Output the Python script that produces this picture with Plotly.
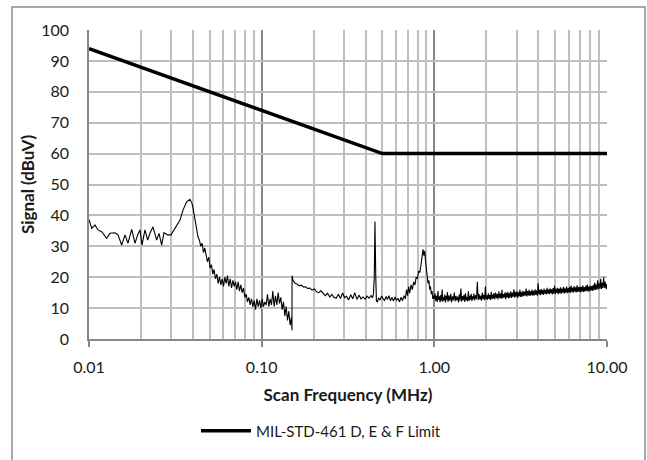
import plotly.graph_objects as go

freq_a = [0.0100, 0.01037, 0.01083, 0.01127, 0.01184, 0.01266, 0.01323, 0.01414, 0.01472, 0.01546,
          0.01616, 0.01682, 0.01767, 0.01846, 0.01914, 0.01973, 0.02027, 0.02109, 0.02188, 0.02254,
          0.02347, 0.02466, 0.02543, 0.02636, 0.02718, 0.02855, 0.02984, 0.03106, 0.03221, 0.03365,
          0.03502, 0.03678, 0.03844, 0.03948]
sig_a = [38.7, 35.8, 36.9, 35.3, 34.7, 32.6, 34.2, 34.4, 33.7, 30.4,
         33.7, 31.0, 35.5, 31.0, 33.7, 35.3, 30.4, 35.3, 32.0, 34.2,
         36.3, 32.0, 34.2, 30.4, 34.4, 33.7, 33.7, 35.3, 36.3, 38.5,
         41.7, 44.4, 45.2, 43.9]

freq_b = [0.0400, 0.0407, 0.0414, 0.0421, 0.0428, 0.0436, 0.0444, 0.0452, 0.0460, 0.0468,
          0.0476, 0.0485, 0.0494, 0.0503, 0.0512, 0.0521, 0.0530, 0.0540, 0.0550, 0.0560,
          0.0570, 0.0580, 0.0590, 0.0601, 0.0612, 0.0623, 0.0634, 0.0645, 0.0657, 0.0669,
          0.0681, 0.0693, 0.0705, 0.0718, 0.0731, 0.0744, 0.0757, 0.0771, 0.0785, 0.0799,
          0.0813, 0.0828, 0.0843, 0.0858, 0.0873, 0.0889, 0.0905, 0.0921, 0.0938, 0.0955,
          0.0972, 0.0989, 0.1007, 0.1025, 0.1043, 0.1062, 0.1081, 0.1100, 0.1120, 0.1140,
          0.1160, 0.1181, 0.1202, 0.1224, 0.1246, 0.1268, 0.1291, 0.1314, 0.1338, 0.1362,
          0.1386, 0.1411, 0.1436, 0.1462, 0.1488, 0.1498]
sig_b = [42.5, 40.0, 37.5, 36.0, 33.0, 32.0, 30.0, 31.0, 28.0, 29.5,
         27.0, 25.0, 26.5, 23.0, 24.0, 21.0, 22.5, 19.5, 21.0, 18.0,
         20.0, 17.5, 19.5, 17.0, 20.0, 18.0, 20.5, 17.0, 19.5, 16.5,
         19.0, 17.0, 18.5, 16.0, 18.5, 15.5, 17.5, 15.0, 16.5, 13.5,
         14.5, 12.0, 13.5, 11.0, 13.0, 10.5, 12.5, 9.5, 13.0, 10.5,
         12.5, 10.0, 13.0, 10.5, 12.0, 11.0, 14.5, 10.5, 13.0, 11.0,
         15.5, 10.5, 14.0, 11.0, 15.0, 11.5, 13.5, 9.5, 12.0, 7.5,
         10.5, 6.0, 9.0, 4.5, 7.0, 2.8]

freq_c = [0.1500, 0.1520, 0.1560, 0.1600, 0.1650, 0.1700, 0.1750, 0.1800, 0.1850, 0.1900,
          0.1960, 0.2020, 0.2080, 0.2140, 0.2200, 0.2270, 0.2340, 0.2410, 0.2480, 0.2550,
          0.2620, 0.2700, 0.2780, 0.2860, 0.2940, 0.3020, 0.3100, 0.3190, 0.3280, 0.3370,
          0.3460, 0.3560, 0.3660, 0.3760, 0.3860, 0.3970, 0.4080, 0.4190, 0.4300, 0.4380,
          0.4440, 0.4490, 0.4530, 0.4580, 0.4620, 0.4680, 0.4750, 0.4850, 0.4950, 0.5050]
sig_c = [20.5, 19.0, 18.0, 17.8, 17.2, 17.4, 16.8, 16.9, 16.3, 16.5,
         15.8, 16.2, 15.3, 15.0, 15.6, 14.6, 14.0, 14.8, 13.6, 14.4,
         13.5, 13.2, 14.5, 13.1, 14.9, 13.4, 13.8, 12.6, 14.3, 13.0,
         15.0, 12.8, 14.2, 13.0, 13.6, 12.9, 13.9, 13.2, 14.1, 13.3,
         14.6, 20.0, 38.0, 20.0, 12.2, 12.0, 13.3, 12.6, 13.9, 13.0]

freq_d = [0.5150, 0.5250, 0.5350, 0.5460, 0.5570, 0.5680, 0.5800, 0.5920, 0.6040, 0.6160,
          0.6290, 0.6420, 0.6550, 0.6680, 0.6800, 0.6900, 0.7000, 0.7100, 0.7200, 0.7330,
          0.7460, 0.7590, 0.7720, 0.7850, 0.7980, 0.8110, 0.8240, 0.8370, 0.8500, 0.8600,
          0.8700, 0.8800, 0.8900, 0.9000, 0.9100, 0.9200, 0.9300, 0.9400, 0.9500, 0.9600,
          0.9700, 0.9800, 0.9900]
sig_d = [12.5, 13.8, 12.8, 14.0, 12.4, 13.4, 12.3, 13.6, 12.5, 13.2,
         12.0, 13.5, 12.4, 14.0, 13.0, 16.0, 14.0, 17.0, 14.8, 17.5,
         16.0, 18.5, 17.5, 20.0, 19.5, 22.0, 21.5, 24.0, 26.5, 29.0,
         27.0, 28.5, 25.0, 22.0, 20.5, 18.0, 19.0, 16.0, 17.0, 14.5,
         15.5, 13.0, 14.0]

freq_e = [1.00, 1.01, 1.02, 1.03, 1.04, 1.05, 1.06, 1.07, 1.08, 1.09, 1.10, 1.11, 1.12, 1.13, 1.14,
          1.15, 1.16, 1.17, 1.18, 1.19, 1.20,
          1.215, 1.23, 1.245, 1.26, 1.275, 1.29, 1.305, 1.32, 1.335, 1.35, 1.365, 1.38, 1.395, 1.41,
          1.425, 1.44, 1.455, 1.47, 1.485, 1.50, 1.515, 1.53, 1.545, 1.56, 1.575, 1.59, 1.605, 1.62,
          1.635, 1.65, 1.665, 1.68, 1.695,
          1.715, 1.735, 1.755, 1.775, 1.795, 1.815, 1.835, 1.855, 1.875, 1.895, 1.915, 1.935, 1.955,
          1.975, 1.995, 2.015, 2.035, 2.055, 2.075, 2.095, 2.115, 2.135, 2.155, 2.175, 2.195, 2.215,
          2.24, 2.265, 2.29, 2.315, 2.34, 2.365, 2.39, 2.415, 2.44, 2.465, 2.49, 2.515, 2.54, 2.565,
          2.59, 2.615, 2.64, 2.665, 2.69, 2.715, 2.74,
          2.77, 2.80, 2.83, 2.86, 2.89, 2.92, 2.95, 2.98, 3.01, 3.04, 3.07, 3.10, 3.13, 3.16, 3.19,
          3.225, 3.26, 3.295, 3.33, 3.365, 3.40, 3.435, 3.47, 3.505, 3.54, 3.575, 3.61, 3.645, 3.68,
          3.715, 3.75,
          3.79, 3.83, 3.87, 3.91, 3.95, 3.99, 4.03, 4.07, 4.11, 4.15, 4.19, 4.23,
          4.275, 4.32, 4.365, 4.41, 4.455, 4.50, 4.545, 4.59, 4.635, 4.68, 4.725, 4.77,
          4.82, 4.87, 4.92, 4.97, 5.02, 5.07, 5.12, 5.17, 5.22, 5.27,
          5.325, 5.38, 5.435, 5.49, 5.545, 5.60, 5.655, 5.71,
          5.77, 5.83, 5.89, 5.95, 6.01, 6.07, 6.13, 6.19, 6.25, 6.31,
          6.375, 6.44, 6.505, 6.57, 6.635, 6.70, 6.765, 6.83,
          6.90, 6.97, 7.04, 7.11, 7.18, 7.25, 7.32, 7.39,
          7.465, 7.54, 7.615, 7.69, 7.765, 7.84,
          7.92, 8.00, 8.08, 8.16, 8.24, 8.32,
          8.405, 8.49, 8.575, 8.66, 8.745, 8.83,
          8.92, 9.01, 9.10, 9.19, 9.28, 9.37,
          9.465, 9.56, 9.655, 9.75, 9.845, 9.94, 10.00]
sig_e = [13.0, 14.8, 12.2, 14.0, 12.0, 15.5, 12.6, 13.8, 11.9, 14.2, 12.4, 16.0, 12.1, 13.6, 12.5,
         14.4, 11.8, 13.9, 12.7, 15.2, 12.0,
         14.1, 12.3, 14.6, 11.9, 13.8, 12.6, 15.0, 12.2, 14.0, 12.5, 13.7, 11.8, 14.5, 12.4,
         16.3, 12.1, 13.9, 12.6, 14.3, 12.0, 14.8, 12.5, 13.6, 12.2, 15.4, 12.4, 14.0, 12.7,
         14.6, 12.3, 13.8, 12.8, 14.7,
         12.5, 14.2, 12.9, 18.5, 12.6, 14.5, 12.8, 14.0, 12.4, 15.0, 12.9, 14.3, 12.6,
         17.0, 12.8, 14.1, 12.7, 14.8, 13.0, 14.2, 12.6, 15.3, 12.9, 14.4, 13.1, 14.9,
         12.9, 15.0, 13.2, 14.6, 12.8, 15.4, 13.3, 14.7, 13.0, 15.9, 13.2, 14.5, 13.4, 15.1,
         12.9, 14.9, 13.5, 15.3, 13.1, 14.8, 13.4,
         15.4, 13.3, 15.0, 13.6, 16.1, 13.4, 15.2, 13.7, 15.5, 13.3, 15.1, 13.8, 16.0, 13.6, 15.3,
         13.7, 15.6, 13.9, 15.3, 14.0, 16.3, 13.8, 15.5, 14.1, 15.9, 13.9, 15.4, 14.2, 16.0,
         14.0, 15.6,
         14.1, 16.1, 14.3, 15.7, 14.0, 18.0, 14.4, 15.9, 14.2, 16.2, 14.5, 15.8,
         14.3, 16.3, 14.6, 15.9, 14.4, 16.6, 14.7, 16.0, 14.5, 16.4, 14.8, 16.1,
         14.4, 16.5, 14.7, 17.2, 14.6, 16.2, 14.9, 16.6, 14.5, 16.3,
         14.8, 16.7, 14.6, 16.3, 15.0, 16.9, 14.7, 16.4,
         15.0, 17.0, 14.8, 16.5, 15.1, 16.8, 14.9, 17.3, 15.2, 16.6,
         15.0, 17.1, 15.3, 16.7, 15.1, 17.4, 15.2, 16.8,
         15.3, 17.0, 15.1, 16.9, 15.4, 17.3, 15.2, 16.8,
         15.4, 17.2, 15.6, 17.6, 15.3, 17.0,
         15.5, 17.3, 15.7, 17.1, 15.6, 17.5,
         15.8, 18.3, 15.9, 17.6, 16.0, 19.0,
         16.1, 18.0, 16.3, 19.5, 16.2, 18.2,
         16.5, 20.0, 16.6, 18.5, 16.4, 17.8, 16.0]

for f_, s_ in [(freq_a, sig_a), (freq_b, sig_b), (freq_c, sig_c), (freq_d, sig_d), (freq_e, sig_e)]:
    assert len(f_) == len(s_), (len(f_), len(s_))

scan_freq = freq_a + freq_b + freq_c + freq_d + freq_e
scan_sig = sig_a + sig_b + sig_c + sig_d + sig_e

# ---- Limit line ----
limit_freq = [0.01, 0.5, 10.0]
limit_sig = [94, 60, 60]
limit_name = "MIL-STD-461 D, E & F Limit"

# ---- Ticks ----
x_tick_vals = [0.01, 0.1, 1, 10]
x_tick_text = ["0.01", "0.10", "1.00", "10.00"]
x_minor_vals = [0.02, 0.03, 0.04, 0.05, 0.06, 0.07, 0.08, 0.09,
                0.2, 0.3, 0.4, 0.5, 0.6, 0.7, 0.8, 0.9,
                2, 3, 4, 5, 6, 7, 8, 9]
y_tick_vals = [0, 10, 20, 30, 40, 50, 60, 70, 80, 90, 100]

FONT = "Lato"
TXT = "#1a1a1a"
MINOR = "#bfbfbf"
MAJOR = "#878787"

fig = go.Figure()
fig.add_trace(go.Scatter(x=scan_freq, y=scan_sig, mode="lines",
                         line=dict(color="black", width=1.1), showlegend=False,
                         name="Scan"))
fig.add_trace(go.Scatter(x=limit_freq, y=limit_sig, mode="lines",
                         line=dict(color="black", width=3.5), name=limit_name,
                         showlegend=True))

W, H = 647, 460
L, R, T, B = 89, 40, 30, 121
pw, ph = W - L - R, H - T - B

def px_x(p):
    return (p - L) / pw

def px_y(p):
    return (H - B - p) / ph

fig.update_layout(
    width=W, height=H,
    margin=dict(l=L, r=R, t=T, b=B, autoexpand=False),
    paper_bgcolor="white", plot_bgcolor="white",
    font=dict(family=FONT, size=15, color=TXT),
    showlegend=True,
    legend=dict(orientation="h", x=px_x(196), xanchor="left",
                y=px_y(431), yanchor="middle",
                font=dict(family=FONT, size=15, color=TXT),
                bgcolor="rgba(0,0,0,0)", itemwidth=50),
    xaxis=dict(type="log", range=[-2, 1], automargin=False,
               tickvals=x_tick_vals, ticktext=x_tick_text,
               showgrid=True, gridcolor=MAJOR, gridwidth=1.5,
               showline=True, linecolor=MAJOR, linewidth=1.5,
               ticks="outside", ticklen=6, tickcolor=MAJOR, tickwidth=1.5,
               ticklabelstandoff=7,
               minor=dict(tickvals=x_minor_vals, showgrid=True,
                          gridcolor=MINOR, gridwidth=1.5, ticks=""),
               zeroline=False,
               title=dict(text="<b>Scan Frequency (MHz)</b>",
                          font=dict(family=FONT, size=17, color=TXT),
                          standoff=14),
               tickfont=dict(family=FONT, size=16, color=TXT)),
    yaxis=dict(range=[0, 100], tickvals=y_tick_vals, automargin=False,
               showgrid=True, gridcolor=MINOR, gridwidth=1.5,
               showline=True, linecolor=MAJOR, linewidth=1.5,
               ticks="", ticklabelstandoff=15, zeroline=False,
               title=dict(text="<b>Signal (dBuV)</b>",
                          font=dict(family=FONT, size=17, color=TXT),
                          standoff=2),
               tickfont=dict(family=FONT, size=16, color=TXT)),
    shapes=[dict(type="rect", xref="paper", yref="paper",
                 x0=px_x(12), x1=px_x(645), y0=px_y(470), y1=px_y(7),
                 line=dict(color="#8c8c8c", width=1.5), fillcolor="rgba(0,0,0,0)",
                 layer="below")],
)

fig.write_html("out.html", config={"displayModeBar": False},
               post_script="document.body.style.margin='0px';document.body.style.overflow='hidden';")
